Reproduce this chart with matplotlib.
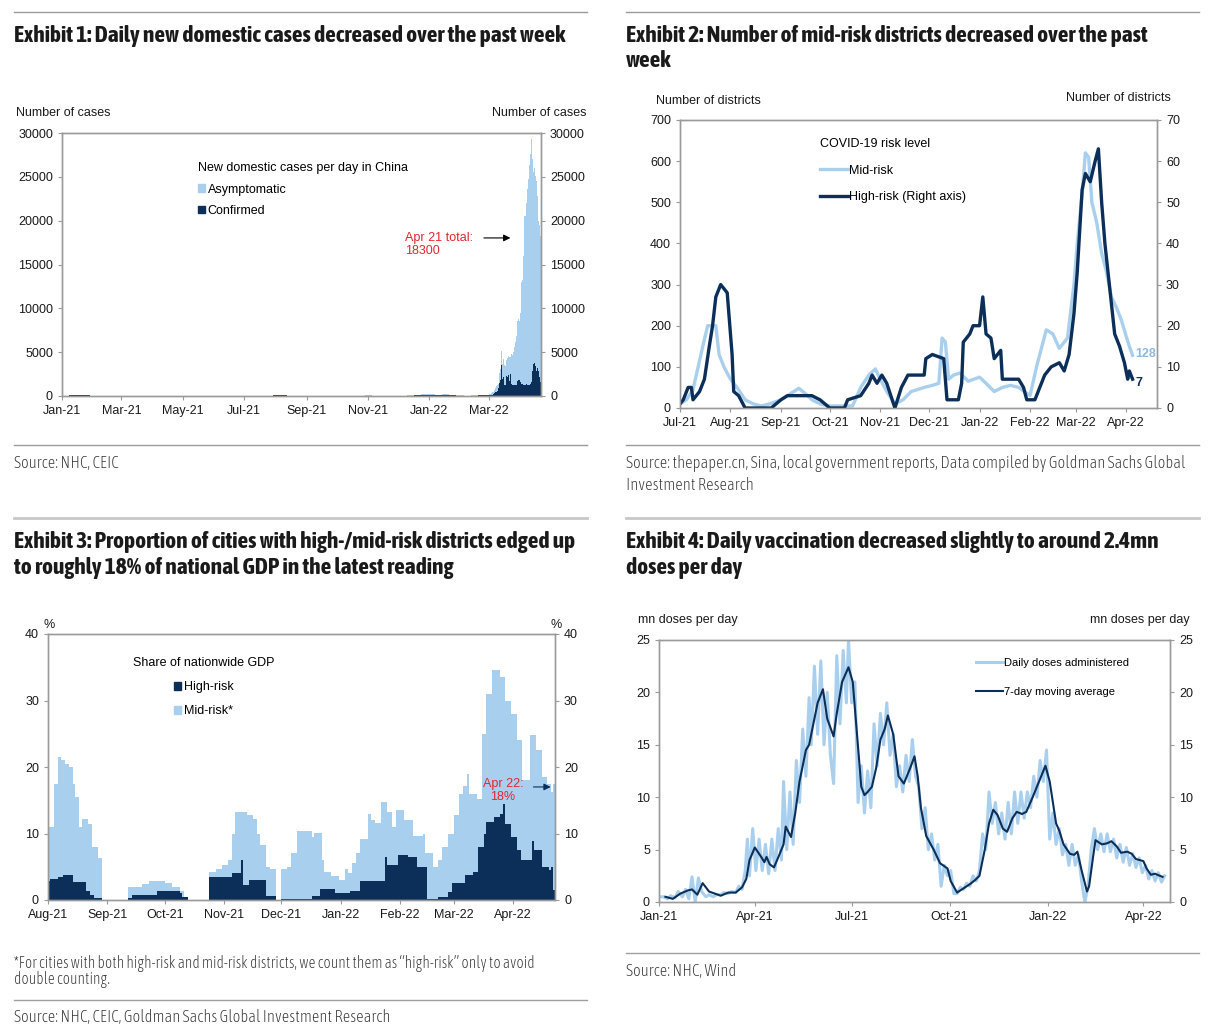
import matplotlib
matplotlib.use('Agg')
import matplotlib.pyplot as plt
import matplotlib.dates as mdates
from matplotlib.lines import Line2D
from matplotlib.patches import Patch
import pandas as pd

# colours
LIGHT = '#a9cfee'
DARK = '#0b2f59'
RED = '#e3262f'
GREY = '#9a9a9a'
TXT = '#1a1a1a'

W, H = 1211, 1032
SANS = ['Liberation Sans', 'DejaVu Sans']
NARROW = ['Asap Condensed', 'Archivo Narrow', 'DejaVu Sans']
plt.rcParams['font.family'] = SANS

# ---------------- Exhibit 1: daily new domestic cases ----------------
# weekly averages Jan 2021 - Feb 2022 (weeks starting 2021-01-01)
p1_week_start = '2021-01-01'
p1_week_total = [30, 120, 130, 110, 50, 15, 5, 2, 1, 0, 0, 1, 2, 5, 2, 1, 1, 1,
                 3, 5, 6, 15, 10, 5, 5, 3, 3, 2, 5, 40, 85, 80, 40, 10, 3, 2,
                 30, 15, 5, 2, 1, 5, 35, 60, 40, 25, 10, 15, 30, 60, 80, 180,
                 200, 150, 180, 100, 60, 50, 80, 100, 150]
p1_week_confirmed = [20, 80, 90, 70, 30, 8, 3, 1, 1, 0, 0, 1, 1, 3, 1, 1, 1, 1,
                     2, 3, 4, 12, 8, 4, 3, 2, 2, 1, 4, 35, 70, 65, 30, 6, 2, 1,
                     25, 12, 3, 1, 1, 3, 25, 45, 30, 15, 6, 8, 20, 45, 65, 150,
                     170, 120, 140, 70, 40, 30, 50, 60, 90]
# daily values 2022-03-01 .. 2022-04-21
p1_day_start = '2022-03-01'
p1_day_total = [200, 250, 300, 400, 500, 700, 900, 1100, 1200, 1400, 2600, 3100,
                5100, 3600, 4200, 3500, 3400, 4100, 4300, 4600, 4400, 4500, 4800,
                4700, 5000, 5600, 6200, 6800, 8600, 8800, 8500,
                9500, 13000, 13200, 16000, 20500, 20500, 22000, 23600, 24700,
                26300, 27600, 29300, 27000, 25500, 26000, 25100, 24500, 22800,
                20000, 19500, 18300]
p1_day_confirmed = [100, 130, 150, 170, 200, 300, 400, 500, 600, 900, 1500, 1800,
                    3500, 1900, 2200, 1200, 1300, 2300, 2200, 2400, 1700, 2500,
                    1400, 1300, 1300, 1200, 1200, 1300, 1700, 1800, 1800,
                    1600, 1400, 1400, 1200, 1300, 1300, 1400, 1300, 1200, 1200,
                    1400, 1600, 2900, 3600, 3800, 3400, 2900, 3200, 2800, 2200, 1600]

# ---------------- Exhibit 2: number of districts ----------------
p2_mid_dates = ['2021-07-01', '2021-07-05', '2021-07-09', '2021-07-15', '2021-07-18',
                '2021-07-20', '2021-07-23', '2021-07-25', '2021-07-28', '2021-08-01',
                '2021-08-05', '2021-08-10', '2021-08-15', '2021-08-20', '2021-08-25',
                '2021-09-01', '2021-09-05', '2021-09-12', '2021-09-16', '2021-09-20',
                '2021-09-25', '2021-10-01', '2021-10-15', '2021-10-20', '2021-10-25',
                '2021-10-29', '2021-11-01', '2021-11-05', '2021-11-10', '2021-11-15',
                '2021-11-20', '2021-11-28', '2021-12-03', '2021-12-07', '2021-12-09',
                '2021-12-11', '2021-12-13', '2021-12-16', '2021-12-20', '2021-12-25',
                '2022-01-01', '2022-01-05', '2022-01-10', '2022-01-15', '2022-01-20',
                '2022-01-25', '2022-02-01', '2022-02-05', '2022-02-11', '2022-02-15',
                '2022-02-19', '2022-02-24', '2022-02-28', '2022-03-02', '2022-03-05',
                '2022-03-07', '2022-03-09', '2022-03-11', '2022-03-14', '2022-03-17',
                '2022-03-20', '2022-03-23', '2022-03-26', '2022-03-29', '2022-04-01',
                '2022-04-03', '2022-04-05']
p2_mid = [10, 20, 45, 150, 200, 200, 200, 130, 100, 70, 50, 20, 10, 5, 10,
          20, 30, 48, 35, 20, 10, 5, 5, 50, 80, 95, 70, 40, 10, 20,
          40, 50, 55, 60, 170, 160, 70, 80, 85, 65,
          75, 60, 40, 50, 55, 50, 30, 100, 190, 180,
          145, 170, 300, 400, 520, 620, 610, 500, 450, 376,
          330, 270, 245, 215, 175, 150, 128]
p2_high_dates = ['2021-07-01', '2021-07-03', '2021-07-06', '2021-07-08', '2021-07-09',
                 '2021-07-13', '2021-07-16', '2021-07-19', '2021-07-21', '2021-07-23',
                 '2021-07-26', '2021-07-30', '2021-08-02', '2021-08-03', '2021-08-06',
                 '2021-08-10', '2021-08-26', '2021-09-01', '2021-09-05', '2021-09-20',
                 '2021-09-25', '2021-10-01', '2021-10-10', '2021-10-12', '2021-10-20',
                 '2021-10-25', '2021-10-27', '2021-10-30', '2021-11-02', '2021-11-05',
                 '2021-11-10', '2021-11-14', '2021-11-18', '2021-11-28', '2021-11-29',
                 '2021-12-03', '2021-12-10', '2021-12-12', '2021-12-19', '2021-12-21',
                 '2021-12-22', '2021-12-26', '2021-12-28', '2022-01-01', '2022-01-03',
                 '2022-01-05', '2022-01-08', '2022-01-10', '2022-01-14', '2022-01-15',
                 '2022-01-25', '2022-01-28', '2022-01-30', '2022-02-04', '2022-02-07',
                 '2022-02-10', '2022-02-14', '2022-02-19', '2022-02-22', '2022-02-25',
                 '2022-02-28', '2022-03-02', '2022-03-05', '2022-03-07', '2022-03-10',
                 '2022-03-13', '2022-03-15', '2022-03-17', '2022-03-19', '2022-03-22',
                 '2022-03-25', '2022-03-28', '2022-03-31', '2022-04-02', '2022-04-03',
                 '2022-04-05']
p2_high = [1, 2, 5, 5, 2, 4, 7, 15, 20, 27, 30, 28, 13, 4, 3,
           0, 0, 2, 3, 3, 2, 0, 0, 2, 3, 6, 8, 6, 8, 6,
           0, 5, 8, 8, 12, 13, 12, 2, 2, 6, 16, 18, 20, 20, 27,
           18, 17, 12, 14, 7, 7, 5, 2, 2, 5, 8, 10, 11, 9, 13,
           23, 33, 53, 57, 55, 60, 63, 50, 40, 29, 18, 15, 11, 7, 9, 7]

# ---------------- Exhibit 3: share of nationwide GDP (%) ----------------
p3_mid_dates = ['2021-08-01', '2021-08-04', '2021-08-06', '2021-08-08', '2021-08-10',
                '2021-08-12', '2021-08-14', '2021-08-15', '2021-08-17', '2021-08-19',
                '2021-08-22', '2021-08-24', '2021-08-27', '2021-08-29', '2021-09-12',
                '2021-09-19', '2021-09-23', '2021-10-01', '2021-10-05', '2021-10-09',
                '2021-10-11', '2021-10-13', '2021-10-24', '2021-10-28', '2021-10-31',
                '2021-11-03', '2021-11-05', '2021-11-07', '2021-11-13', '2021-11-16',
                '2021-11-18', '2021-11-20', '2021-11-23', '2021-11-25', '2021-11-28',
                '2021-12-01', '2021-12-04', '2021-12-06', '2021-12-09', '2021-12-17',
                '2021-12-18', '2021-12-22', '2021-12-23', '2021-12-27', '2021-12-31',
                '2022-01-03', '2022-01-05', '2022-01-07', '2022-01-09', '2022-01-11',
                '2022-01-15', '2022-01-17', '2022-01-19', '2022-01-22', '2022-01-25',
                '2022-01-28', '2022-01-30', '2022-02-03', '2022-02-08', '2022-02-13',
                '2022-02-14', '2022-02-18', '2022-02-21', '2022-02-23', '2022-02-26',
                '2022-03-01', '2022-03-04', '2022-03-06', '2022-03-08', '2022-03-09',
                '2022-03-13', '2022-03-16', '2022-03-18', '2022-03-21', '2022-03-25',
                '2022-03-28', '2022-03-31', '2022-04-03', '2022-04-06', '2022-04-10',
                '2022-04-13', '2022-04-16', '2022-04-19', '2022-04-21', '2022-04-22']
p3_mid_top = [11, 17.5, 21.5, 21, 20.5, 20, 17.5, 15.5, 11, 12.2,
              11.5, 8, 6.3, 0, 1.9, 2.4, 2.8, 2.5, 2.0, 1.3,
              0.5, 0, 4.2, 4.7, 5.2, 6, 10, 13.2, 12.8, 12.2,
              10, 8.3, 5, 4.6, 0, 4.6, 5, 7, 10.4, 9.5,
              10.1, 6, 4.2, 3.6, 3, 4.6, 4, 5.5, 7, 9.2,
              13, 12, 11.6, 14.8, 13.2, 11, 13.6, 12, 9.6, 10,
              7, 5, 6, 8, 10, 12.8, 16, 17.2, 19, 16,
              15.2, 25, 31, 34.6, 33.5, 30, 28, 24, 18, 24.8,
              22.5, 18.5, 17.5, 16.2, 17.5]
p3_high_dates = ['2021-08-01', '2021-08-02', '2021-08-06', '2021-08-09', '2021-08-14',
                 '2021-08-21', '2021-08-23', '2021-08-25', '2021-08-29', '2021-09-12',
                 '2021-09-14', '2021-09-27', '2021-10-09', '2021-10-10', '2021-10-13',
                 '2021-10-24', '2021-11-05', '2021-11-10', '2021-11-11', '2021-11-14',
                 '2021-11-23', '2021-11-28', '2021-12-01', '2021-12-17', '2021-12-21',
                 '2021-12-29', '2022-01-06', '2022-01-11', '2022-01-24', '2022-01-25',
                 '2022-01-31', '2022-02-05', '2022-02-10', '2022-02-15', '2022-02-21',
                 '2022-02-26', '2022-02-28', '2022-03-07', '2022-03-11', '2022-03-14',
                 '2022-03-17', '2022-03-18', '2022-03-22', '2022-03-25', '2022-03-27',
                 '2022-03-28', '2022-03-31', '2022-04-03', '2022-04-05', '2022-04-11',
                 '2022-04-12', '2022-04-16', '2022-04-20', '2022-04-21', '2022-04-22']
p3_high = [2.8, 3.2, 3.4, 3.8, 2.7, 1.3, 0.8, 0.3, 0, 0.3,
           0.8, 1.3, 1.0, 0.4, 0, 3.5, 4.0, 6, 2.3, 3.0,
           0.6, 0, 0.1, 0.6, 1.7, 1.0, 1.3, 2.9, 6.4, 5.2,
           6.7, 6.5, 5.0, 0.1, 0.4, 1.2, 2.5, 3.8, 4.2, 8,
           10, 11.8, 12.5, 13, 14.5, 11.5, 9.5, 7.5, 6, 8.8,
           7.5, 5, 4.5, 5, 1.5]
p3_end = '2022-04-23'

# ---------------- Exhibit 4: daily vaccination (mn doses) ----------------
p4_daily_dates = ['2021-01-01', '2021-01-05', '2021-01-09', '2021-01-12', '2021-01-16',
                  '2021-01-19', '2021-01-23', '2021-01-26', '2021-01-29', '2021-02-01',
                  '2021-02-04', '2021-02-07', '2021-02-10', '2021-02-14', '2021-02-17',
                  '2021-02-21', '2021-02-24', '2021-02-28', '2021-03-03', '2021-03-07',
                  '2021-03-10', '2021-03-14', '2021-03-17', '2021-03-20', '2021-03-23',
                  '2021-03-25', '2021-03-27', '2021-03-30', '2021-04-02', '2021-04-05',
                  '2021-04-08', '2021-04-11', '2021-04-14', '2021-04-17', '2021-04-20',
                  '2021-04-23', '2021-04-26', '2021-04-28', '2021-05-01', '2021-05-04',
                  '2021-05-07', '2021-05-10', '2021-05-13', '2021-05-16', '2021-05-19',
                  '2021-05-22', '2021-05-24', '2021-05-27', '2021-05-30', '2021-06-02',
                  '2021-06-05', '2021-06-08', '2021-06-11', '2021-06-14', '2021-06-17',
                  '2021-06-20', '2021-06-23', '2021-06-26', '2021-06-28', '2021-07-01',
                  '2021-07-04', '2021-07-07', '2021-07-10', '2021-07-13', '2021-07-16',
                  '2021-07-19', '2021-07-22', '2021-07-25', '2021-07-28', '2021-07-31',
                  '2021-08-03', '2021-08-06', '2021-08-09', '2021-08-12', '2021-08-15',
                  '2021-08-18', '2021-08-21', '2021-08-24', '2021-08-27', '2021-08-30',
                  '2021-09-02', '2021-09-05', '2021-09-08', '2021-09-11', '2021-09-14',
                  '2021-09-17', '2021-09-20', '2021-09-23', '2021-09-26', '2021-09-29',
                  '2021-10-02', '2021-10-05', '2021-10-08', '2021-10-11', '2021-10-14',
                  '2021-10-17', '2021-10-20', '2021-10-23', '2021-10-26', '2021-10-29',
                  '2021-11-01', '2021-11-04', '2021-11-07', '2021-11-10', '2021-11-13',
                  '2021-11-16', '2021-11-19', '2021-11-22', '2021-11-25', '2021-11-28',
                  '2021-12-01', '2021-12-04', '2021-12-07', '2021-12-10', '2021-12-13',
                  '2021-12-16', '2021-12-19', '2021-12-22', '2021-12-25', '2021-12-28',
                  '2021-12-31', '2022-01-03', '2022-01-06', '2022-01-09', '2022-01-12',
                  '2022-01-15', '2022-01-18', '2022-01-21', '2022-01-24', '2022-01-27',
                  '2022-01-30', '2022-02-02', '2022-02-05', '2022-02-08', '2022-02-11',
                  '2022-02-14', '2022-02-17', '2022-02-20', '2022-02-23', '2022-02-26',
                  '2022-03-01', '2022-03-04', '2022-03-07', '2022-03-10', '2022-03-13',
                  '2022-03-16', '2022-03-19', '2022-03-22', '2022-03-25', '2022-03-28',
                  '2022-03-31', '2022-04-03', '2022-04-06', '2022-04-09', '2022-04-12',
                  '2022-04-15', '2022-04-18', '2022-04-21']
p4_daily = [0.5, 0.5, 0.3, 0.6, 0.4, 1.0, 0.5, 1.2, 0.3, 2.4,
            0.0, 2.3, 1.0, 0.5, 0.7, 0.5, 0.7, 0.7, 0.9, 0.8,
            1.0, 0.9, 1.5, 1.2, 3.0, 6.0, 2.5, 7.0, 3.0, 6.0,
            3.0, 5.5, 2.7, 6.0, 3.0, 7.0, 4.0, 11.5, 5.0, 10.5,
            5.5, 13.5, 9.5, 16.5, 12.0, 19.5, 15.0, 22.5, 16.0, 23.0,
            15.0, 20.0, 14.0, 11.3, 23.5, 17.0, 24.0, 19.0, 25.0, 19.0,
            21.0, 9.5, 13.0, 8.5, 12.5, 9.0, 17.0, 13.0, 18.0, 15.0,
            19.0, 14.0, 16.0, 11.0, 13.0, 10.5, 14.0, 11.5, 15.5, 12.0,
            11.0, 7.0, 9.0, 5.0, 6.5, 4.0, 5.5, 1.5, 3.5, 2.5,
            3.0, 0.8, 0.8, 1.4, 1.2, 1.8, 1.5, 2.5, 2.0, 3.0,
            6.5, 5.0, 10.5, 7.5, 9.5, 6.5, 8.5, 6.0, 9.5, 6.5,
            10.5, 7.5, 10.5, 8.0, 10.5, 9.0, 12.0, 10.0, 13.5, 11.5,
            14.5, 6.0, 8.5, 5.5, 7.0, 4.5, 5.5, 3.5, 5.5, 3.5,
            4.5, 2.0, 0.0, 1.5, 5.0, 7.0, 5.0, 6.5, 4.8, 6.5,
            4.8, 6.0, 4.2, 5.5, 3.8, 5.2, 3.5, 4.6, 3.3, 4.2,
            2.8, 3.5, 2.2, 3.0, 2.0, 2.8, 1.9, 2.5]
p4_ma_dates = ['2021-01-07', '2021-01-14', '2021-01-21', '2021-01-28', '2021-02-01',
               '2021-02-06', '2021-02-11', '2021-02-17', '2021-02-28', '2021-03-07',
               '2021-03-14', '2021-03-20', '2021-03-24', '2021-03-27', '2021-04-01',
               '2021-04-07', '2021-04-10', '2021-04-12', '2021-04-15', '2021-04-19',
               '2021-04-24', '2021-04-28', '2021-04-30', '2021-05-05', '2021-05-09',
               '2021-05-13', '2021-05-16', '2021-05-19', '2021-05-22', '2021-05-26',
               '2021-05-30', '2021-06-04', '2021-06-08', '2021-06-14', '2021-06-17',
               '2021-06-22', '2021-06-28', '2021-07-02', '2021-07-06', '2021-07-10',
               '2021-07-13', '2021-07-16', '2021-07-20', '2021-07-24', '2021-07-28',
               '2021-08-01', '2021-08-04', '2021-08-09', '2021-08-14', '2021-08-19',
               '2021-08-25', '2021-08-29', '2021-09-01', '2021-09-04', '2021-09-09',
               '2021-09-16', '2021-09-22', '2021-09-29', '2021-10-02', '2021-10-08',
               '2021-10-14', '2021-10-20', '2021-10-25', '2021-10-29', '2021-11-03',
               '2021-11-07', '2021-11-11', '2021-11-15', '2021-11-20', '2021-11-24',
               '2021-11-29', '2021-12-03', '2021-12-08', '2021-12-12', '2021-12-18',
               '2021-12-24', '2021-12-30', '2022-01-03', '2022-01-09', '2022-01-12',
               '2022-01-16', '2022-01-22', '2022-01-26', '2022-01-29', '2022-02-02',
               '2022-02-07', '2022-02-09', '2022-02-13', '2022-02-15', '2022-02-21',
               '2022-02-26', '2022-03-02', '2022-03-07', '2022-03-11', '2022-03-17',
               '2022-03-21', '2022-03-25', '2022-04-01', '2022-04-04', '2022-04-08',
               '2022-04-12', '2022-04-14', '2022-04-19']
p4_ma = [0.5, 0.3, 0.8, 1.1, 1.2, 0.7, 1.8, 1.0, 0.6, 0.9,
         0.9, 1.4, 2.2, 4.0, 5.2, 4.3, 3.8, 4.3, 3.6, 3.3,
         4.5, 5.5, 7.2, 6.2, 8.5, 11.5, 13.0, 14.5, 15.0, 17.0,
         19.0, 20.3, 17.5, 15.8, 18.0, 21.0, 22.4, 21.0, 16.0, 11.0,
         10.2, 10.5, 11.0, 12.8, 15.5, 16.5, 17.8, 16.0, 12.0, 11.3,
         12.8, 13.9, 12.0, 9.0, 6.3, 5.0, 3.7, 3.2, 2.0, 0.9,
         1.3, 1.7, 2.1, 2.5, 5.0, 7.5, 8.8, 8.3, 7.0, 6.7,
         8.0, 8.6, 8.4, 8.6, 10.0, 11.5, 13.0, 11.5, 7.5, 6.8,
         5.5, 4.6, 4.5, 4.8, 3.0, 1.0, 1.5, 4.5, 5.9, 5.5,
         5.6, 5.8, 5.3, 4.7, 4.8, 4.6, 4.1, 3.9, 3.2, 2.6,
         2.7, 2.6, 2.4]


def add_axes_px(fig, left, top, right, bottom):
    return fig.add_axes([left / W, 1 - bottom / H, (right - left) / W, (bottom - top) / H])


def style_axes(ax):
    for s in ax.spines.values():
        s.set_color(GREY)
        s.set_linewidth(1.0)
    ax.tick_params(axis='both', colors=GREY, labelcolor=TXT, labelsize=9,
                   length=3, width=0.8, direction='out')


def right_axis(ax, ylim, ticks):
    ax2 = ax.twinx()
    ax2.set_ylim(*ylim)
    ax2.set_yticks(ticks)
    style_axes(ax2)
    return ax2


def ftext(fig, x, y, s, **kw):
    fig.text(x / W, 1 - y / H, s, **kw)


def hline(fig, x0, x1, y, lw=1.0, color='#a0a0a0'):
    fig.add_artist(Line2D([x0 / W, x1 / W], [1 - y / H, 1 - y / H],
                          color=color, lw=lw, transform=fig.transFigure))


def step_edges(dates, values, end):
    x = list(pd.to_datetime(dates)) + [pd.Timestamp(end)]
    y = list(values) + [values[-1]]
    return mdates.date2num(x), y


fig = plt.figure(figsize=(W / 100, H / 100), dpi=100)

# separators
for y, lw, col in [(12, 1.0, '#9a9a9a'), (445, 1.0, '#9a9a9a'), (518, 2.0, '#c8c8c8')]:
    hline(fig, 14, 587, y, lw, col)
    hline(fig, 626, 1199, y, lw, col)
hline(fig, 626, 1199, 953)
hline(fig, 14, 587, 1000)

title_kw = dict(family=NARROW, fontweight='bold', fontsize=16.8, color=TXT, va='center')
ftext(fig, 14, 36, 'Exhibit 1: Daily new domestic cases decreased over the past week', **title_kw)
ftext(fig, 626, 36, 'Exhibit 2: Number of mid-risk districts decreased over the past', **title_kw)
ftext(fig, 626, 61, 'week', **title_kw)
ftext(fig, 14, 542, 'Exhibit 3: Proportion of cities with high-/mid-risk districts edged up', **title_kw)
ftext(fig, 14, 568, 'to roughly 18% of national GDP in the latest reading', **title_kw)
ftext(fig, 626, 542, 'Exhibit 4: Daily vaccination decreased slightly to around 2.4mn', **title_kw)
ftext(fig, 626, 568, 'doses per day', **title_kw)

src_kw = dict(family=NARROW, fontweight='light', fontsize=12, color='#333333', va='center')
ftext(fig, 14, 463, 'Source: NHC, CEIC', **src_kw)
ftext(fig, 626, 463, 'Source: thepaper.cn, Sina, local government reports, Data compiled by Goldman Sachs Global', **src_kw)
ftext(fig, 626, 485, 'Investment Research', **src_kw)
note_kw = dict(family=NARROW, fontweight='light', fontsize=11.2, color='#333333', va='center')
ftext(fig, 14, 964, '*For cities with both high-risk and mid-risk districts, we count them as \u201chigh-risk\u201d only to avoid', **note_kw)
ftext(fig, 14, 980, 'double counting.', **note_kw)
ftext(fig, 14, 1018, 'Source: NHC, CEIC, Goldman Sachs Global Investment Research', **src_kw)
ftext(fig, 626, 971, 'Source: NHC, Wind', **src_kw)

lab_kw = dict(fontsize=9, color=TXT, va='center')

# ---------------- panel 1 ----------------
ax1 = add_axes_px(fig, 62, 133, 541, 396)
wk_dates = pd.date_range(p1_week_start, periods=len(p1_week_total), freq='7D')
dy_dates = pd.date_range(p1_day_start, periods=len(p1_day_total), freq='D')
x1 = mdates.date2num(list(wk_dates) + list(dy_dates) + [dy_dates[-1] + pd.Timedelta(days=1)])
tot1 = p1_week_total + p1_day_total + [p1_day_total[-1]]
conf1 = p1_week_confirmed + p1_day_confirmed + [p1_day_confirmed[-1]]
ax1.fill_between(x1, tot1, step='post', color=LIGHT, lw=0)
ax1.fill_between(x1, conf1, step='post', color=DARK, lw=0)
ax1.set_xlim(mdates.date2num(pd.Timestamp('2021-01-01')), mdates.date2num(pd.Timestamp('2022-04-22')))
ax1.set_ylim(0, 30000)
ax1.set_yticks(range(0, 30001, 5000))
ax1.xaxis.set_major_locator(mdates.MonthLocator(bymonth=[1, 3, 5, 7, 9, 11]))
ax1.xaxis.set_major_formatter(mdates.DateFormatter('%b-%y'))
style_axes(ax1)
right_axis(ax1, (0, 30000), range(0, 30001, 5000))
ftext(fig, 16, 113, 'Number of cases', ha='left', **lab_kw)
ftext(fig, 586, 113, 'Number of cases', ha='right', **lab_kw)
ax1.legend([Patch(color=LIGHT), Patch(color=DARK)], ['Asymptomatic', 'Confirmed'],
           title='New domestic cases per day in China', loc='upper left',
           bbox_to_anchor=(0.26, 0.932), frameon=False, fontsize=9, title_fontsize=9,
           alignment='left', handlelength=0.6, handleheight=0.6, handletextpad=0.2,
           labelspacing=0.75)
ax1.text(0.716, 0.624, 'Apr 21 total:\n18300', transform=ax1.transAxes, color=RED,
         fontsize=9, va='top', ha='left', linespacing=1.1)
ax1.annotate('', xy=(0.942, 0.601), xytext=(0.875, 0.601), xycoords='axes fraction',
             arrowprops=dict(arrowstyle='-|>', color='black', lw=0.8, mutation_scale=10))

# ---------------- panel 2 ----------------
ax2 = add_axes_px(fig, 680, 120, 1157, 408)
ax2r = ax2.twinx()
ax2.plot(mdates.date2num(pd.to_datetime(p2_mid_dates)), p2_mid, color=LIGHT, lw=2.4)
ax2r.plot(mdates.date2num(pd.to_datetime(p2_high_dates)), p2_high, color=DARK, lw=2.4)
ax2.set_ylim(0, 700)
ax2.set_yticks(range(0, 701, 100))
ax2r.set_ylim(0, 70)
ax2r.set_yticks(range(0, 71, 10))
ax2.set_xlim(mdates.date2num(pd.Timestamp('2021-07-01')), mdates.date2num(pd.Timestamp('2022-04-20')))
ax2.xaxis.set_major_locator(mdates.MonthLocator())
ax2.xaxis.set_major_formatter(mdates.DateFormatter('%b-%y'))
style_axes(ax2)
style_axes(ax2r)
ftext(fig, 656, 101, 'Number of districts', ha='left', **lab_kw)
ftext(fig, 1171, 98, 'Number of districts', ha='right', **lab_kw)
ax2.legend([Line2D([], [], color=LIGHT, lw=2.4), Line2D([], [], color=DARK, lw=2.4)],
           ['Mid-risk', 'High-risk (Right axis)'], title='COVID-19 risk level',
           loc='upper left', bbox_to_anchor=(0.27, 0.975), frameon=False, fontsize=9,
           title_fontsize=9, alignment='left', handlelength=2.2, handletextpad=0.15,
           labelspacing=1.15)
ax2.text(0.955, 0.1875, '128', transform=ax2.transAxes, color='#8fb8dc', fontsize=9,
         fontweight='bold', va='center', ha='left')
ax2.text(0.955, 0.0868, '7', transform=ax2.transAxes, color=DARK, fontsize=9,
         fontweight='bold', va='center', ha='left')

# ---------------- panel 3 ----------------
ax3 = add_axes_px(fig, 48, 634, 555, 900)
xm, ym = step_edges(p3_mid_dates, p3_mid_top, p3_end)
xh, yh = step_edges(p3_high_dates, p3_high, p3_end)
ax3.fill_between(xm, ym, step='post', color=LIGHT, lw=0)
ax3.fill_between(xh, yh, step='post', color=DARK, lw=0)
ax3.set_ylim(0, 40)
ax3.set_yticks(range(0, 41, 10))
ax3.set_xlim(mdates.date2num(pd.Timestamp('2021-08-01')), mdates.date2num(pd.Timestamp(p3_end)))
ax3.xaxis.set_major_locator(mdates.MonthLocator())
ax3.xaxis.set_major_formatter(mdates.DateFormatter('%b-%y'))
style_axes(ax3)
right_axis(ax3, (0, 40), range(0, 41, 10))
ftext(fig, 44, 625, '%', ha='left', **lab_kw)
ftext(fig, 562, 625, '%', ha='right', **lab_kw)
ax3.legend([Patch(color=DARK), Patch(color=LIGHT)], ['High-risk', 'Mid-risk*'],
           title='Share of nationwide GDP', loc='upper left', bbox_to_anchor=(0.145, 0.955),
           frameon=False, fontsize=9, title_fontsize=9, alignment='center',
           handlelength=0.6, handleheight=0.6, handletextpad=0.2, labelspacing=0.95)
ax3.text(0.897, 0.459, 'Apr 22:\n18%', transform=ax3.transAxes, color=RED, fontsize=9,
         va='top', ha='center', linespacing=1.1)
ax3.annotate('', xy=(0.997, 0.425), xytext=(0.952, 0.425), xycoords='axes fraction',
             arrowprops=dict(arrowstyle='-|>', color=DARK, lw=0.8, mutation_scale=10))

# ---------------- panel 4 ----------------
ax4 = add_axes_px(fig, 659, 640, 1170, 902)
ax4.plot(mdates.date2num(pd.to_datetime(p4_daily_dates)), p4_daily, color=LIGHT, lw=2.2)
ax4.plot(mdates.date2num(pd.to_datetime(p4_ma_dates)), p4_ma, color=DARK, lw=1.5)
ax4.set_ylim(0, 25)
ax4.set_yticks(range(0, 26, 5))
ax4.set_xlim(mdates.date2num(pd.Timestamp('2021-01-01')), mdates.date2num(pd.Timestamp('2022-04-26')))
ax4.xaxis.set_major_locator(mdates.MonthLocator(bymonth=[1, 4, 7, 10]))
ax4.xaxis.set_major_formatter(mdates.DateFormatter('%b-%y'))
style_axes(ax4)
right_axis(ax4, (0, 25), range(0, 26, 5))
ftext(fig, 638, 620, 'mn doses per day', ha='left', **lab_kw)
ftext(fig, 1190, 620, 'mn doses per day', ha='right', **lab_kw)
ax4.legend([Line2D([], [], color=LIGHT, lw=2.2), Line2D([], [], color=DARK, lw=1.5)],
           ['Daily doses administered', '7-day moving average'], loc='upper left',
           bbox_to_anchor=(0.6, 0.97), frameon=False, fontsize=8, handlelength=2.5,
           handletextpad=0.1, labelspacing=1.7)

fig.savefig('out.png', dpi=100)
